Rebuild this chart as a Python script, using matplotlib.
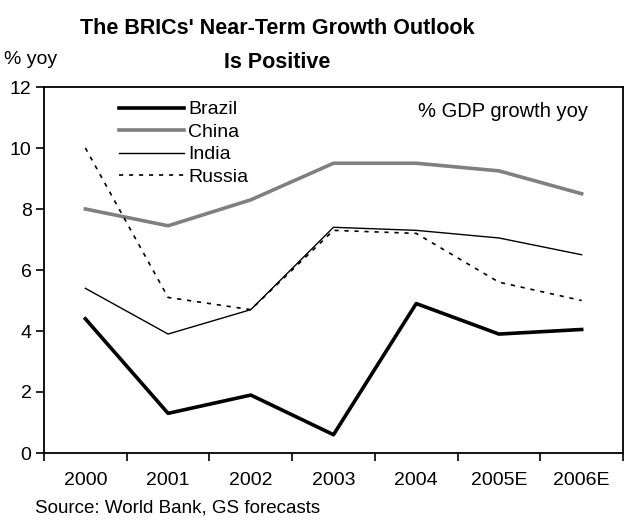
import numpy as np
import matplotlib
matplotlib.use('Agg')
import matplotlib.pyplot as plt

plt.rcParams['font.family'] = ['Liberation Sans', 'DejaVu Sans']

years = ['2000', '2001', '2002', '2003', '2004', '2005E', '2006E']
brazil = [4.4, 1.3, 1.9, 0.6, 4.9, 3.9, 4.05]
china = [8.0, 7.45, 8.3, 9.5, 9.5, 9.25, 8.5]
india = [5.4, 3.9, 4.7, 7.4, 7.3, 7.05, 6.5]
russia = [10.0, 5.1, 4.7, 7.3, 7.2, 5.6, 5.0]

fig = plt.figure(figsize=(6.34, 5.21), dpi=100)
ax = fig.add_axes([44/634, 68/521, 579/634, 366/521])

x = np.arange(len(years))
ax.plot(x, brazil, color='black', lw=2.6, label='Brazil')
ax.plot(x, china, color='#808080', lw=2.6, label='China')
ax.plot(x, india, color='black', lw=1.0, label='India')
ax.plot(x, russia, color='black', lw=1.2, ls=(0, (2.5, 3.5)), label='Russia')

ax.set_xlim(-0.5, 6.5)
ax.set_ylim(0, 12)
ax.set_yticks(range(0, 13, 2))
ax.set_xticks(np.arange(-0.5, 7, 1))
ax.set_xticklabels([])
ax.set_xticks(x, minor=True)
ax.set_xticklabels(years, minor=True)
ax.tick_params(axis='x', which='major', direction='out', length=6, width=1.2)
ax.tick_params(axis='x', which='minor', length=0, labelsize=14, pad=14)
ax.tick_params(axis='y', direction='out', length=6, width=1.2, labelsize=14, pad=3)
for s in ax.spines.values():
    s.set_linewidth(1.3)

ax.legend(loc='upper left', bbox_to_anchor=(0.1, 1.01), frameon=False, fontsize=14,
          handlelength=3.3, handletextpad=0.25, labelspacing=0.25)

ax.text(0.94, 0.933, '% GDP growth yoy', transform=ax.transAxes, ha='right', va='center', fontsize=14.5)

fig.text(277/634, 1 - 28/521, "The BRICs' Near-Term Growth Outlook", ha='center', va='center',
         fontsize=15.5, fontweight='bold')
fig.text(277/634, 1 - 62/521, 'Is Positive', ha='center', va='center', fontsize=15.5, fontweight='bold')
fig.text(4/634, 1 - 60/521, '% yoy', ha='left', va='center', fontsize=14)
fig.text(35/634, 1 - 508/521, 'Source: World Bank, GS forecasts', ha='left', va='center', fontsize=13.5)

fig.savefig('out.png', dpi=100)
